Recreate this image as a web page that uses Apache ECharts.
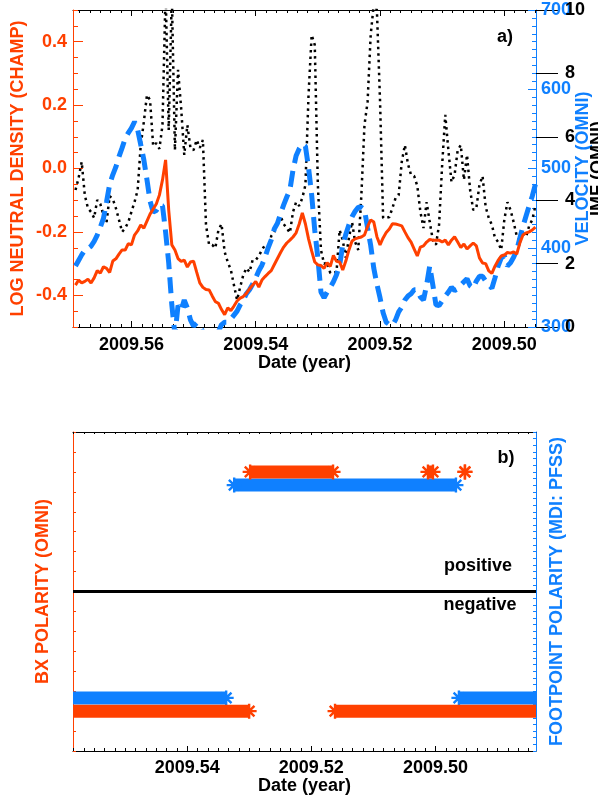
<!DOCTYPE html>
<html><head><meta charset="utf-8">
<script src="https://cdn.jsdelivr.net/npm/echarts@6/dist/echarts.min.js"></script>
<style>html,body{margin:0;padding:0;background:#fff}#c{width:598px;height:796px}</style>
</head><body><div id="c"></div>
<script>
// ---------- DATA ----------
// Panel a: samples every 0.0005 yr starting at 2009.569 (decreasing)
const sampleStart = 2009.569;
const sampleStep = 0.0005;
const densityLog = [
 -0.368,-0.352,-0.361,-0.356,-0.349,-0.361,-0.345,-0.322,-0.330,-0.310,
 -0.315,-0.328,-0.292,-0.285,-0.270,-0.257,-0.257,-0.237,-0.241,-0.210,
 -0.197,-0.178,-0.188,-0.166,-0.144,-0.128,-0.112,-0.084,-0.036,0.027,
 -0.131,-0.241,-0.257,-0.284,-0.293,-0.289,-0.311,-0.295,-0.292,-0.327,
 -0.361,-0.375,-0.382,-0.383,-0.402,-0.420,-0.425,-0.445,-0.461,-0.440,
 -0.448,-0.434,-0.418,-0.409,-0.404,-0.394,-0.380,-0.368,-0.356,-0.374,
 -0.352,-0.341,-0.331,-0.322,-0.303,-0.284,-0.265,-0.248,-0.235,-0.226,
 -0.216,-0.203,-0.175,-0.140,-0.175,-0.222,-0.260,-0.295,-0.304,-0.306,
 -0.315,-0.297,-0.309,-0.274,-0.293,-0.295,-0.320,-0.292,-0.257,-0.229,
 -0.222,-0.219,-0.216,-0.210,-0.183,-0.162,-0.169,-0.215,-0.241,-0.219,
 -0.202,-0.191,-0.174,-0.175,-0.178,-0.181,-0.200,-0.218,-0.232,-0.254,
 -0.276,-0.248,-0.244,-0.232,-0.224,-0.226,-0.226,-0.226,-0.232,-0.226,
 -0.241,-0.226,-0.215,-0.232,-0.249,-0.238,-0.254,-0.244,-0.235,-0.244,
 -0.282,-0.298,-0.300,-0.323,-0.331,-0.308,-0.290,-0.276,-0.273,-0.265,
 -0.267,-0.263,-0.270,-0.235,-0.210,-0.203,-0.200,-0.194,-0.185];
const velocity = [
 377,384,391,397,399,402,408,416,426,437,
 458,480,492,502,515,526,538,545,551,559,
 549,530,511,486,459,445,447,454,453,420,
 381,328,290,327,321,334,324,309,301,305,
 301,294,289,284,284,286,294,303,306,306,
 310,315,320,328,334,342,347,354,362,371,
 378,388,400,410,424,431,443,454,464,473,
 498,516,525,531,528,501,467,422,387,344,
 337,344,350,357,366,378,403,417,429,439,
 446,451,451,448,425,403,374,354,337,318,
 306,303,302,309,319,325,334,339,342,347,
 347,338,334,353,377,353,328,327,333,339,
 344,350,346,348,353,357,361,352,349,358,
 364,364,358,353,349,362,377,387,390,377,
 381,388,397,412,427,440,453,465,480];
const imf = [
 4.32,4.70,5.21,4.16,3.75,3.63,3.44,4.01,3.88,3.53,
 3.31,4.13,4.04,3.75,3.38,3.00,3.12,3.31,3.63,3.94,
 4.32,5.74,6.47,7.32,7.16,5.71,5.80,5.62,6.37,10.6,
 6.21,10.5,5.58,8.11,6.91,5.43,6.37,5.65,5.58,5.90,
 5.65,5.90,3.22,2.59,2.59,2.49,3.06,3.25,2.37,2.05,
 1.80,1.32,0.85,1.26,1.64,1.86,1.73,2.11,2.11,2.24,
 2.43,2.59,2.49,2.87,3.00,3.31,3.50,3.25,3.12,2.97,
 3.63,3.94,3.82,4.07,4.48,7.32,9.21,8.90,4.48,2.43,
 1.99,2.05,1.70,1.73,1.73,3.06,2.74,2.18,2.81,3.31,
 2.68,2.43,4.16,6.37,7.10,9.21,10.2,10.0,7.16,3.44,
 3.44,3.47,3.75,4.07,4.16,5.21,5.74,5.14,4.79,4.76,
 4.45,3.63,3.12,3.94,3.31,2.74,2.59,3.22,5.11,6.69,
 5.58,4.57,4.80,5.58,5.74,4.64,5.43,4.32,3.69,3.75,
 4.48,4.76,3.79,3.44,3.22,2.81,2.68,2.43,3.38,3.94,
 3.69,3.31,2.87,2.68,3.06,2.84,3.19,3.38,3.82];

// Panel b: polarity intervals (start, end in year, sign)
const bxStart = [2009.5600, 2009.52986, 2009.51618, 2009.50121, 2009.49525];
const bxEnd   = [2009.53002, 2009.51650, 2009.4800, 2009.50040, 2009.49525];
const bxSign  = [-1, 1, -1, 1, 1];
const fpStart = [2009.5600, 2009.53243, 2009.49622];
const fpEnd   = [2009.53372, 2009.49670, 2009.4800];
const fpSign  = [-1, 1, -1];
const bxLevel = 0.75, fpLevel = 0.667;

// Tick labels
const xTicksA = [2009.50, 2009.52, 2009.54, 2009.56];
const xTicksB = [2009.50, 2009.52, 2009.54];
const densTicks = [-0.4, -0.2, 0.0, 0.2, 0.4];

// ---------- STYLE ----------
const ORANGE = '#ff4000', BLUE = '#0f80ff';
const FONT = "'Liberation Sans', Arial, Helvetica, sans-serif";
const TXT = {fontFamily: FONT, fontWeight: 'bold', fontSize: 18};
const A_MIN = 2009.4949, A_MAX = 2009.5694;
const B_MIN = 2009.4838, B_MAX = 2009.5584;

function minorVals(min, max) {
  const out = [];
  for (let k = -60; k <= 60; k++) {
    const v = 2009.50 + k * 0.02 / 12;
    if (v >= min && v <= max) out.push(v);
  }
  return out;
}
function xAx(grid, min, max, opts) {
  const o = Object.assign({
    type: 'value', gridIndex: grid, min, max, inverse: true,
    splitLine: {show: false}, nameMoveOverlap: false,
    axisLine: {show: true, onZero: false, lineStyle: {color: '#000', width: 1}},
    axisLabel: {show: false}
  }, opts);
  o.axisLine = Object.assign({onZero: false}, o.axisLine);
  return o;
}
const timesA = densityLog.map((_, i) => +(sampleStart - i * sampleStep).toFixed(4));

const xAxis = [
  xAx(0, A_MIN, A_MAX, {position: 'bottom',
    axisTick: {inside: true, length: 6, customValues: xTicksA, lineStyle: {color: '#000'}},
    axisLabel: Object.assign({show: true, customValues: xTicksA, color: '#000', margin: 9,
      formatter: v => v.toFixed(2)}, TXT),
    name: 'Date (year)', nameLocation: 'middle', nameGap: 27,
    nameTextStyle: Object.assign({color: '#000'}, TXT)}),
  xAx(0, A_MIN, A_MAX, {position: 'bottom', axisLine: {show: false},
    axisTick: {inside: true, length: 3, customValues: minorVals(A_MIN, A_MAX), lineStyle: {color: '#000'}}}),
  xAx(0, A_MIN, A_MAX, {position: 'top',
    axisTick: {inside: true, length: 6, customValues: xTicksA, lineStyle: {color: '#000'}}}),
  xAx(0, A_MIN, A_MAX, {position: 'top', axisLine: {show: false},
    axisTick: {inside: true, length: 3, customValues: minorVals(A_MIN, A_MAX), lineStyle: {color: '#000'}}}),
  xAx(1, B_MIN, B_MAX, {position: 'bottom',
    axisTick: {inside: true, length: 5, customValues: xTicksB, lineStyle: {color: '#000'}},
    axisLabel: Object.assign({show: true, customValues: xTicksB, color: '#000', margin: 8,
      formatter: v => v.toFixed(2)}, TXT),
    name: 'Date (year)', nameLocation: 'middle', nameGap: 26,
    nameTextStyle: Object.assign({color: '#000'}, TXT)}),
  xAx(1, B_MIN, B_MAX, {position: 'bottom', axisLine: {show: false},
    axisTick: {inside: true, length: 3, customValues: minorVals(B_MIN, B_MAX), lineStyle: {color: '#000'}}}),
  xAx(1, B_MIN, B_MAX, {position: 'top',
    axisTick: {inside: true, length: 3, customValues: xTicksB, lineStyle: {color: '#000'}}}),
  xAx(1, B_MIN, B_MAX, {position: 'top', axisLine: {show: false},
    axisTick: {inside: true, length: 2, customValues: minorVals(B_MIN, B_MAX), lineStyle: {color: '#000'}}})
];

const yAxis = [
  {type: 'value', gridIndex: 0, position: 'left', min: -0.5, max: 0.5, splitLine: {show: false},
   nameMoveOverlap: false,
   axisLine: {show: true, onZero: false, lineStyle: {color: ORANGE, width: 1}},
   axisTick: {inside: true, length: 10, customValues: densTicks, lineStyle: {color: ORANGE}},
   axisLabel: Object.assign({customValues: densTicks, color: ORANGE, margin: 6,
     formatter: v => v.toFixed(1)}, TXT),
   name: 'LOG NEUTRAL DENSITY (CHAMP)', nameLocation: 'middle', nameGap: 46,
   nameTextStyle: Object.assign({color: ORANGE}, TXT)},
  {type: 'value', gridIndex: 0, position: 'left', min: -0.5, max: 0.5, interval: 0.05,
   splitLine: {show: false}, axisLine: {show: false, onZero: false}, axisLabel: {show: false},
   axisTick: {inside: true, length: 5, lineStyle: {color: ORANGE}}},
  {type: 'value', gridIndex: 0, position: 'right', min: 300, max: 700, interval: 100,
   splitLine: {show: false}, nameMoveOverlap: false,
   axisLine: {show: true, onZero: false, lineStyle: {color: BLUE, width: 1}},
   axisTick: {inside: true, length: 8, lineStyle: {color: BLUE}},
   minorTick: {show: true, splitNumber: 10, length: 4, lineStyle: {color: BLUE}},
   axisLabel: Object.assign({color: BLUE, margin: 5}, TXT),
   name: 'VELOCITY (OMNI)', nameLocation: 'middle', nameGap: 38,
   nameTextStyle: Object.assign({color: BLUE}, TXT)},
  {type: 'value', gridIndex: 0, position: 'right', min: 0, max: 10, interval: 2,
   splitLine: {show: false}, nameMoveOverlap: false,
   axisLine: {show: false, onZero: false},
   axisTick: {show: true, inside: false, length: 22, lineStyle: {color: '#000', width: 1}},
   axisLabel: Object.assign({color: '#000', margin: 29}, TXT),
   name: 'IMF (OMNI)', nameLocation: 'middle', nameGap: 53,
   nameTextStyle: Object.assign({color: '#000'}, TXT)},
  {type: 'value', gridIndex: 1, position: 'left', min: -1, max: 1, interval: 0.125,
   splitLine: {show: false}, nameMoveOverlap: false,
   axisLine: {show: true, onZero: false, lineStyle: {color: ORANGE, width: 1}},
   axisTick: {inside: true, length: 3, lineStyle: {color: ORANGE}},
   axisLabel: {show: false},
   name: 'BX POLARITY (OMNI)', nameLocation: 'middle', nameGap: 21,
   nameTextStyle: Object.assign({color: ORANGE}, TXT)},
  {type: 'value', gridIndex: 1, position: 'right', min: -1, max: 1, interval: 0.25,
   splitLine: {show: false}, nameMoveOverlap: false,
   axisLine: {show: true, onZero: false, lineStyle: {color: BLUE, width: 1}},
   axisTick: {inside: true, length: 3, lineStyle: {color: BLUE}},
   minorTick: {show: true, splitNumber: 6, length: 3, lineStyle: {color: BLUE}},
   axisLabel: {show: false},
   name: 'FOOTPOINT POLARITY (MDI: PFSS)', nameLocation: 'middle', nameGap: 12,
   nameTextStyle: Object.assign({color: BLUE}, TXT)}
];

// asterisk symbol with thicker arms
const STAR = 'path://M42,0L58,0L58,100L42,100Z M0,42L100,42L100,58L0,58Z ' +
  'M20.2,9L91,79.8L79.8,91L9,20.2Z M79.8,9L91,20.2L20.2,91L9,79.8Z';

const series = [
  {type: 'line', xAxisIndex: 0, yAxisIndex: 3, showSymbol: false, z: 2,
   data: timesA.map((t, i) => [t, imf[i]]),
   lineStyle: {color: '#000', width: 2.5, type: [2.5, 4], cap: 'butt'}},
  {type: 'line', xAxisIndex: 0, yAxisIndex: 2, showSymbol: false, z: 3,
   data: timesA.map((t, i) => [t, velocity[i]]),
   lineStyle: {color: BLUE, width: 5, type: [16, 8], cap: 'butt'}},
  {type: 'line', xAxisIndex: 0, yAxisIndex: 0, showSymbol: false, z: 4,
   data: timesA.map((t, i) => [t, densityLog[i]]),
   lineStyle: {color: ORANGE, width: 3}}
];
function endPoint(t, y) {
  const c = Math.min(Math.max(t, B_MIN), B_MAX);
  return c === t ? {value: [t, y]} : {value: [c, y], symbol: 'none'};
}
function addBands(starts, ends, signs, level, color, z) {
  starts.forEach((s, i) => {
    const y = signs[i] * level;
    series.push({type: 'line', xAxisIndex: 4, yAxisIndex: 4, z,
      data: [endPoint(s, y), endPoint(ends[i], y)],
      symbol: STAR, symbolSize: 15, showSymbol: true,
      itemStyle: {color}, lineStyle: {color, width: 13, cap: 'butt'}});
  });
}
addBands(fpStart, fpEnd, fpSign, fpLevel, BLUE, 3);
addBands(bxStart, bxEnd, bxSign, bxLevel, ORANGE, 4);
series.push({type: 'line', xAxisIndex: 4, yAxisIndex: 4, data: [], z: 5,
  markLine: {silent: true, symbol: 'none', label: {show: false},
    lineStyle: {color: '#000', width: 3, type: 'solid'}, data: [{yAxis: 0}]}});

function txt(text, x, y) {
  return {type: 'text', x, y, z: 100,
    style: {text, fill: '#000', font: 'bold 18px ' + FONT, align: 'center', verticalAlign: 'middle'}};
}

const chart = echarts.init(document.getElementById('c'), null, {renderer: 'canvas'});
chart.setOption({
  animation: false,
  backgroundColor: '#fff',
  grid: [
    {left: 73, top: 10, width: 463, height: 317, containLabel: false, outerBoundsMode: 'none'},
    {left: 73, top: 432, width: 463, height: 319, containLabel: false, outerBoundsMode: 'none'}
  ],
  xAxis, yAxis, series,
  graphic: [txt('a)', 505, 37), txt('b)', 506, 458), txt('positive', 478, 566), txt('negative', 480, 605)]
});
</script></body></html>
